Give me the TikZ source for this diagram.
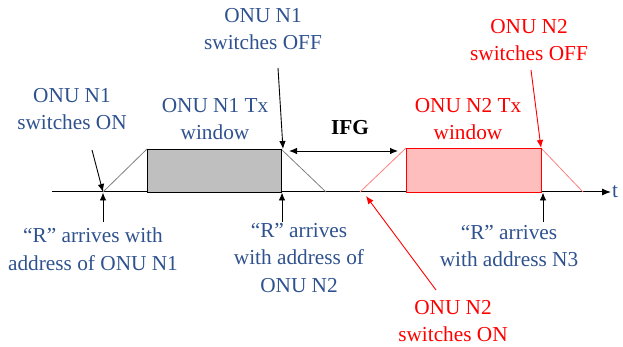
\documentclass[tikz,border=0pt]{standalone}
\usepackage{fontspec}
\setmainfont{Liberation Serif}
\usetikzlibrary{shapes,arrows.meta}
\definecolor{onublue}{RGB}{47,82,143}
\definecolor{winred}{RGB}{255,190,190}
\definecolor{rampred}{RGB}{255,128,128}

\begin{document}
\begin{tikzpicture}[x=1pt,y=-1pt,
  lbl/.style={align=center,font=\fontsize{21.3}{27.5}\selectfont,text=onublue,inner sep=0pt},
  redlbl/.style={lbl,text=red},
  ptr/.style={-{Latex[length=8pt,width=6.5pt]},line width=0.9pt}]
\useasboundingbox (0,0) rectangle (623,347);
% corners of the two windows on the time axis
\coordinate (on1) at (103,192);
\coordinate (off1) at (283,149);
\coordinate (on2) at (366,196);
\coordinate (off2) at (541,148);
% time axis
\draw [-{Latex[length=9pt,width=7pt]}, line width=1pt] (52,192) -- (611,192) coordinate (tend);
\node[right, font=\fontsize{21.3}{27.5}\selectfont, text=onublue, inner sep=1pt] (t) at (tend) {t};
% window of ONU N1
\draw [gray, line width=0.8pt] (on1) -- (147,149) (281,149) -- (326,192);
\draw [fill=gray!50, line width=0.8pt] (147,192) rectangle (281,149);
% window of ONU N2
\draw [rampred, line width=0.8pt] (360,192) -- (406,148) (541,148) -- (583,192);
\draw [red, fill=winred, line width=0.8pt] (406,192) rectangle (541,148);
% labels
\node[lbl] (n1on) at (72,109) {ONU N1\\switches ON};
\node[lbl] (n1win) at (215,119) {ONU N1 Tx\\window};
\node[lbl] (n1off) at (263,29) {ONU N1\\switches OFF};
\node[lbl, text=black, font=\fontsize{21.3}{27.5}\selectfont\bfseries] (ifg) at (350,128) {IFG};
\node[redlbl] (n2win) at (468,119) {ONU N2 Tx\\window};
\node[redlbl] (n2off) at (529,40) {ONU N2\\switches OFF};
\node[redlbl] (n2on) at (453,321) {ONU N2\\switches ON};
\node[lbl] (r1) at (93,249) {“R” arrives with\\address of ONU N1};
\node[lbl] (r2) at (299,258) {“R” arrives\\with address of\\ONU N2};
\node[lbl] (r3) at (509,246) {“R” arrives\\with address N3};
% pointers to the switching instants
\coordinate (t1) at (92,150);
\coordinate (t2) at (278,68);
\coordinate (t3) at (531,70);
\coordinate (t4) at (436,290);
\draw [ptr] (t1) -- (on1);
\draw [ptr] (t2) -- (off1);
\draw [ptr, red] (t3) -- (off2);
\draw [ptr, red] (t4) -- (on2);
\draw [{Latex[length=8pt,width=6.5pt]}-{Latex[length=8pt,width=6.5pt]}, line width=0.9pt] (289,151) -- (398,151);
% arrivals of "R"
\foreach \x in {103,282,543} {
  \draw [ptr] (\x,222) -- (\x,192.5);
}
\end{tikzpicture}
\end{document}
